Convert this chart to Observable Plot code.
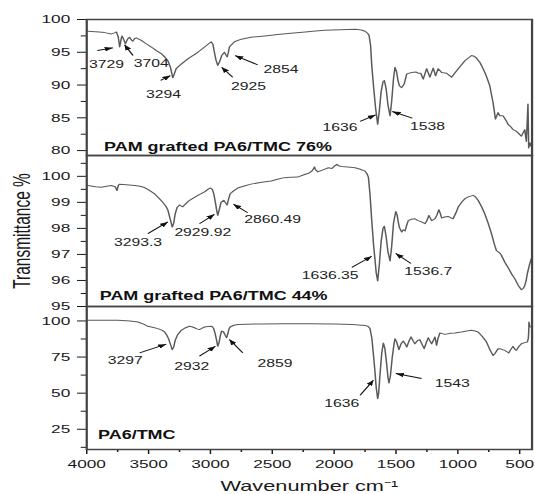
<!DOCTYPE html>
<html><head><meta charset="utf-8">
<script src="https://cdn.jsdelivr.net/npm/d3@7"></script>
<script src="https://cdn.jsdelivr.net/npm/@observablehq/plot@0.6"></script>
<style>
html,body{margin:0;padding:0;background:#fff;}
#chart{width:535px;}
#chart svg{display:block;overflow:visible;}
</style></head><body><div id="chart"></div>
<script>
// ---- spectrum: PAM grafted PA6/TMC 76% ----
const wnTop = [4000,3990,3900,3855,3801,3770,3760,3745,3734,3722,3715,3700,3688,3670,3653,3640,3627,3612,3600,3559,3520,3478,3440,3398,3370,3344,3325,3304,3290,3277,3236,3183,3102,3035,2994,2980,2968,2955,2941,2925,2909,2887,2875,2865,2855,2847,2806,2750,2672,2560,2457,2350,2234,2150,2073,1950,1831,1780,1750,1730,1718,1705,1696,1680,1665,1648,1635,1620,1605,1594,1580,1565,1548,1535,1520,1508,1495,1485,1473,1454,1433,1413,1373,1340,1320,1300,1280,1252,1226,1199,1180,1159,1131,1091,1051,997,943,889,870,849,820,796,770,742,715,696,675,660,634,610,594,570,554,530,513,486,459,446,433,427,418,405];
const trTop = [98.2,98.2,98.1,98.0,97.8,98.0,98.1,97.3,95.8,97.0,97.5,96.9,96.3,97.0,97.3,96.9,96.7,97.1,97.2,96.8,96.3,95.8,95.3,94.8,94.3,93.7,92.8,91.1,91.8,92.5,93.2,94.0,95.0,96.0,96.6,96.2,95.0,93.8,93.0,93.6,94.5,95.0,94.6,94.3,95.0,95.8,96.6,97.0,97.3,97.5,97.7,97.9,98.1,98.25,98.35,98.45,98.5,98.4,98.2,97.9,97.6,96.0,93.0,89.5,86.5,84.0,86.0,89.0,90.5,90.7,89.5,87.0,85.3,87.5,91.0,92.7,92.0,90.8,89.9,89.6,90.2,91.7,91.9,92.0,91.8,91.8,90.9,92.5,91.2,92.6,91.4,92.5,91.9,91.8,91.2,92.5,93.7,94.5,94.4,94.1,93.4,92.5,91.4,89.9,87.3,84.8,85.8,85.3,85.3,84.6,84.0,83.6,83.2,83.0,82.7,82.2,83.2,81.4,87.1,80.4,81.2,80.6];

// ---- spectrum: PAM grafted PA6/TMC 44% ----
const wnMid = [4000,3990,3930,3882,3840,3801,3770,3755,3745,3734,3680,3613,3570,3532,3490,3452,3420,3385,3360,3344,3325,3309,3297,3285,3270,3250,3235,3223,3200,3169,3102,3048,3015,3000,2985,2973,2960,2950,2941,2930,2914,2893,2880,2865,2855,2841,2810,2780,2720,2672,2600,2510,2450,2403,2350,2296,2250,2202,2180,2168,2159,2150,2131,2090,2046,2018,1995,1978,1960,1938,1890,1831,1790,1750,1735,1723,1710,1696,1680,1669,1660,1648,1635,1620,1605,1594,1580,1565,1548,1535,1520,1502,1490,1480,1473,1454,1440,1427,1415,1401,1375,1347,1320,1293,1266,1250,1234,1212,1185,1170,1153,1140,1131,1100,1078,1055,1038,1015,997,970,943,910,876,855,836,810,782,755,728,705,688,660,647,620,594,565,540,510,486,470,459,448,438,419,405];
const trMid = [99.68,99.65,99.6,99.58,99.62,99.65,99.6,99.45,99.65,99.7,99.68,99.65,99.62,99.57,99.45,99.33,99.18,99.0,98.85,98.7,98.35,98.05,98.2,98.56,98.8,98.9,98.85,98.83,98.95,99.08,99.27,99.4,99.52,99.55,99.5,99.33,99.0,98.7,98.5,98.7,99.0,99.08,99.0,98.9,99.1,99.33,99.45,99.55,99.64,99.7,99.76,99.82,99.9,99.95,99.96,99.97,100.05,100.13,100.2,100.28,100.36,100.25,100.17,100.25,100.33,100.3,100.4,100.46,100.4,100.38,100.36,100.33,100.27,100.2,100.1,99.97,99.3,98.3,97.3,96.77,96.3,95.98,96.6,97.5,98.0,98.08,97.7,97.1,96.75,97.3,98.2,98.65,98.5,98.2,98.05,97.86,97.95,97.9,98.1,98.3,98.35,98.37,98.3,98.25,98.18,98.3,98.5,98.3,98.37,98.5,98.72,98.55,98.4,98.45,98.46,98.4,98.37,98.6,98.82,99.0,99.14,99.22,99.27,99.2,99.08,98.85,98.56,98.2,97.8,97.4,97.15,97.05,96.96,96.7,96.5,96.25,96.07,95.8,95.64,95.7,95.8,96.0,96.26,96.64,96.85];

// ---- spectrum: PA6/TMC ----
const wnBot = [4000,3900,3748,3650,3586,3540,3506,3460,3425,3390,3371,3355,3339,3320,3309,3297,3285,3265,3236,3200,3169,3150,3129,3110,3089,3070,3048,3020,2989,2975,2962,2950,2941,2930,2920,2909,2895,2880,2869,2858,2850,2841,2810,2780,2600,2403,2202,2000,1850,1750,1725,1710,1695,1683,1670,1660,1648,1640,1630,1615,1602,1590,1575,1565,1557,1545,1530,1515,1508,1495,1476,1460,1441,1425,1413,1395,1379,1360,1347,1325,1307,1290,1272,1255,1239,1225,1212,1195,1185,1178,1172,1160,1145,1125,1105,1060,1024,970,930,889,860,836,800,768,740,715,700,675,650,621,600,589,570,554,540,527,505,486,460,438,430,427,425,418,405];
const trBot = [100.4,100.4,100.4,100.0,99.3,97.8,96.3,95.4,94.7,93.5,92.4,90.5,87.7,83.0,80.1,82.0,86.5,90.5,93.5,95.3,96.3,96.0,95.3,94.5,94.0,94.8,95.8,96.2,96.3,95.0,91.2,86.5,82.4,85.0,90.0,93.0,92.5,90.0,88.4,91.5,94.5,95.8,97.0,97.6,97.9,98.1,98.1,97.8,97.5,96.9,96.2,94.7,88.0,77.3,65.0,54.0,46.1,50.0,62.0,78.0,84.7,81.0,70.0,61.0,57.0,62.0,75.0,84.5,87.7,85.5,80.1,84.0,86.1,84.0,81.9,86.0,88.9,86.0,84.2,86.5,87.0,84.0,80.8,85.0,88.4,86.0,84.2,87.0,88.9,86.0,83.1,88.0,91.7,91.2,90.7,91.5,91.7,92.4,93.0,93.5,93.0,92.4,89.0,85.4,80.0,76.1,77.5,80.8,80.5,79.6,78.5,77.8,80.5,82.4,80.5,79.6,82.5,84.2,85.0,85.4,88.0,92.4,99.3,96.0,95.8];

// ---- axes ----
const xTicks = [4000,3500,3000,2500,2000,1500,1000,500];
const xMinor = [3750,3250,2750,2250,1750,1250,750];
const yTicksTop = [80,85,90,95,100];
const yMinorTop = [82.5,87.5,92.5,97.5];
const yTicksMid = [95,96,97,98,99,100];
const yMinorMid = [95.5,96.5,97.5,98.5,99.5,100.5];
const yTicksBot = [25,50,75,100];
const yMinorBot = [12.5,37.5,62.5,87.5];
const panelNames = ["PAM grafted PA6/TMC 76%", "PAM grafted PA6/TMC 44%", "PA6/TMC"];
const xTitle = "Wavenumber cm\u207B\u00B9";
const yTitle = "Transmittance %";

// ---- peak labels (label point and arrow, in wavenumber / transmittance units) ----
const peakText = [["3729","3704","3294","2925","2854","1636","1538"],["3293.3","2929.92","2860.49","1636.35","1536.7"],["3297","2932","2859","1636","1543"]];
const peakLabelX = [[3841,3478,3379,2693,2430,1952,1245],[3586,3062,2497,2032,1239],[3688,3151,2479,1938,1046]];
const peakLabelY = [[93.09,93.33,88.56,89.78,92.33,83.48,83.67],[97.45,97.83,98.34,96.19,96.32],[72.82,68.67,70.54,42.85,56.69]];
const arrowFromX = [[3914,3626,3403,2820,2618,1790,1368],[3506,3089,2699,1857,1379],[3573,3089,2739,1790,1293]];
const arrowFromY = [[95.27,94.5,90.7,91.2,93.09,84.44,84.94],[97.8,98.18,98.6,96.5,96.65],[77.94,75.59,77.94,48.59,60.15]];
const arrowToX = [[3788,3694,3323,2909,2801,1664,1530],[3344,2968,2814,1696,1502],[3357,2960,2847,1683,1502]];
const arrowToY = [[95.68,96.14,91.45,92.72,94.5,85.46,85.96],[98.25,98.54,98.93,96.93,97.04],[83.9,82.51,87.15,58.98,63.6]];

// ---- layout ----
const W = 357, OUTW = 535, SX = OUTW / W;
const ML = 86 / SX, MR = W - 531.3 / SX;
const FONT = "'Liberation Sans', Arial, Helvetica, sans-serif";

function addArrowheads(svg, id) {
  const ns = "http://www.w3.org/2000/svg";
  const defs = document.createElementNS(ns, "defs");
  const m = document.createElementNS(ns, "marker");
  m.setAttribute("id", id);
  m.setAttribute("viewBox", "0 0 10 8");
  m.setAttribute("refX", "10");
  m.setAttribute("refY", "4");
  m.setAttribute("markerWidth", "5.5");
  m.setAttribute("markerHeight", "4.4");
  m.setAttribute("markerUnits", "userSpaceOnUse");
  m.setAttribute("orient", "auto");
  const p = document.createElementNS(ns, "path");
  p.setAttribute("d", "M0,0L10,4L0,8Z");
  p.setAttribute("fill", "#111");
  m.appendChild(p); defs.appendChild(m);
  svg.insertBefore(defs, svg.firstChild);
  svg.querySelectorAll('g[aria-label="link"] path, g[aria-label="link"] line').forEach(e => e.setAttribute("marker-end", `url(#${id})`));
}

function panel(i, {height, marginTop, marginBottom, yDomain, yTicks, yMinor, wn, tr, nameDx, nameDy, extra}) {
  const rows = wn.map((w, k) => ({w, t: tr[k]}));
  const ann = peakText[i].map((t, k) => ({
    text: t, x: peakLabelX[i][k], y: peakLabelY[i][k],
    x1: arrowFromX[i][k], y1: arrowFromY[i][k], x2: arrowToX[i][k], y2: arrowToY[i][k]
  }));
  const svg = Plot.plot({
    width: W, height, marginLeft: ML, marginRight: MR, marginTop, marginBottom,
    style: {fontFamily: FONT, color: "#1a1a1a", background: "transparent", overflow: "visible"},
    x: {domain: [4000, 400], axis: i === 2 ? undefined : null},
    y: {domain: yDomain},
    marks: [
      Plot.axisY(yTicks, {tickSize: 6, tickPadding: 5, fontSize: 11.5, tickFormat: "d", label: null}),
      Plot.axisY(yMinor, {tickSize: 3.5, tickFormat: () => "", label: null}),
      Plot.line(rows, {x: "w", y: "t", stroke: "#5a5a5a", strokeWidth: 1}),
      Plot.link(ann, {x1: "x1", y1: "y1", x2: "x2", y2: "y2", stroke: "#111", strokeWidth: 0.9}),
      Plot.text(ann, {x: "x", y: "y", text: "text", fontSize: 10.5, fill: "#222", lineAnchor: "middle"}),
      Plot.text([panelNames[i]], {frameAnchor: "bottom-left", textAnchor: "start", lineAnchor: "middle", dx: nameDx, dy: nameDy, fontSize: 12, fontWeight: "bold", fill: "#111"}),
      ...(extra || []),
      Plot.frame({stroke: "#444", strokeWidth: 1.5})
    ]
  });
  addArrowheads(svg, "ah" + i);
  svg.setAttribute("width", OUTW);
  svg.setAttribute("preserveAspectRatio", "none");
  svg.style.width = OUTW + "px";
  svg.style.height = height + "px";
  svg.style.maxWidth = "none";
  return svg;
}

const chart = document.getElementById("chart");
chart.appendChild(panel(0, {height: 155, marginTop: 19, marginBottom: 0, yDomain: [79.25, 100], yTicks: yTicksTop, yMinor: yMinorTop, wn: wnTop, tr: trTop, nameDx: 103.3 / SX - ML, nameDy: -8.1}));
chart.appendChild(panel(1, {height: 151, marginTop: 0, marginBottom: 0, yDomain: [95, 100.8], yTicks: yTicksMid, yMinor: yMinorMid, wn: wnMid, tr: trMid, nameDx: 99 / SX - ML, nameDy: -10.1,
  extra: [Plot.text([yTitle], {frameAnchor: "left", rotate: -90, dx: 22 / SX - ML, textAnchor: "middle", lineAnchor: "middle", fontSize: 15.5, fill: "#1a1a1a"})]}));
chart.appendChild(panel(2, {height: 188, marginTop: 0, marginBottom: 45, yDomain: [11, 110], yTicks: yTicksBot, yMinor: yMinorBot, wn: wnBot, tr: trBot, nameDx: 97.3 / SX - ML, nameDy: -14.1,
  extra: [
    Plot.axisX(xTicks, {tickSize: 5, tickPadding: 5, fontSize: 11.5, tickFormat: "d", label: null}),
    Plot.axisX(xMinor, {tickSize: 3, tickFormat: () => "", label: null}),
    Plot.text([xTitle], {frameAnchor: "bottom", dy: 36.5, lineAnchor: "middle", fontSize: 14.5, fill: "#1a1a1a"})
  ]}));
</script></body></html>
